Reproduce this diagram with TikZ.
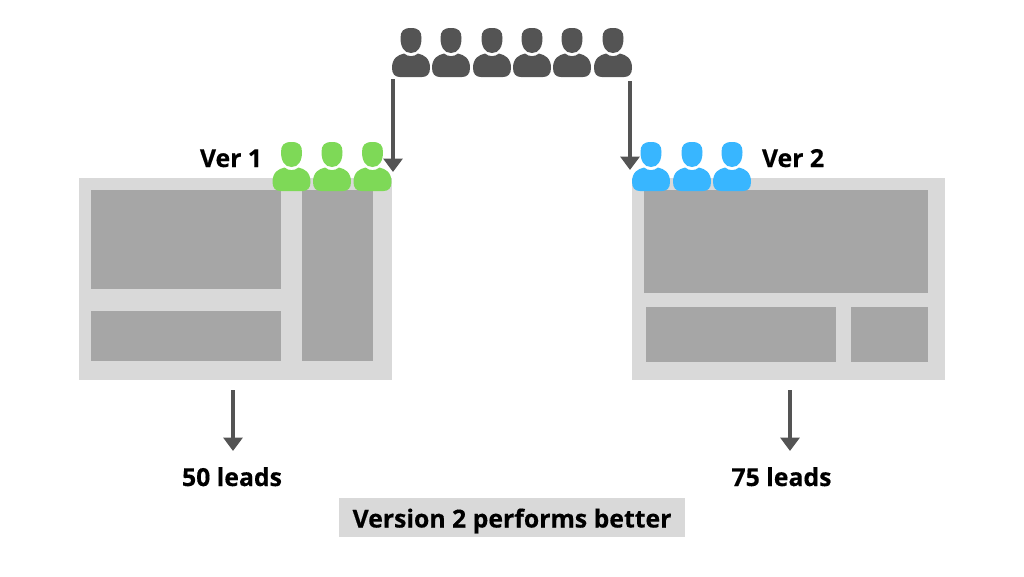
\documentclass[tikz,border=0pt]{standalone}
\usepackage{fontspec}
\setmainfont{Open Sans}[BoldFeatures={FakeBold=0.4}]
\usetikzlibrary{arrows.meta}
\definecolor{panelc}{HTML}{D9D9D9}
\definecolor{blockc}{HTML}{A6A6A6}
\definecolor{darkc}{HTML}{545454}
\definecolor{greenc}{HTML}{7ED957}
\definecolor{bluec}{HTML}{38B6FF}
\tikzset{
  x=1pt,y=-1pt,
  panel/.style={fill=panelc},
  block/.style={fill=blockc},
  flow/.style={draw=darkc,line width=4pt,-{Triangle[length=13.5pt,width=19pt]}},
  lbl/.style={font=\bfseries\fontsize{24.8}{29}\selectfont,text=black,inner sep=0pt,text height=18pt,text depth=0pt},
  person/.pic={
    \fill (0,-5) .. controls (7.5,-5) and (10.5,-2) .. (10.5,5)
      .. controls (10.5,14) and (7,20) .. (0,20)
      .. controls (-7,20) and (-10.5,14) .. (-10.5,5)
      .. controls (-10.5,-2) and (-7.5,-5) .. (0,-5) -- cycle;
    \fill (-7,20.5) .. controls (-13,22) and (-19,25) .. (-19,35)
      .. controls (-19,41) and (-16,44) .. (-11,44)
      -- (11,44) .. controls (16,44) and (19,41) .. (19,35)
      .. controls (19,25) and (13,22) .. (7,20.5)
      .. controls (3,24) and (-3,24) .. (-7,20.5) -- cycle;
  }
}
\begin{document}
\begin{tikzpicture}
\useasboundingbox (0,0) rectangle (1024,576);
% panels
\fill[panel] (79,178) rectangle (392,380);
\fill[block] (91,190) rectangle (281,289);
\fill[block] (91,311) rectangle (281,361);
\fill[block] (302,190) rectangle (373,361);
\fill[panel] (632,178) rectangle (945,380);
\fill[block] (644,190) rectangle (928,293);
\fill[block] (646,307) rectangle (836,362);
\fill[block] (851,307) rectangle (928,362);
% people
\foreach \c in {411,451,492,532,572,613}
  \pic[darkc] at (\c,33) {person};
\foreach \c in {291.5,332,372.5}
  \pic[greenc] at (\c,147) {person};
\foreach \c in {651,692,732}
  \pic[bluec] at (\c,147) {person};
% anchors
\coordinate (a1s) at (393,79);
\coordinate (a1e) at (393,172);
\coordinate (a2s) at (630,81);
\coordinate (a2e) at (630,170);
\coordinate (a3s) at (233,390);
\coordinate (a3e) at (233,451);
\coordinate (a4s) at (790,390);
\coordinate (a4e) at (790,451);
\draw[flow] (a1s) -- (a1e);
\draw[flow] (a2s) -- (a2e);
\draw[flow] (a3s) -- (a3e);
\draw[flow] (a4s) -- (a4e);
% labels
\node[lbl] (v1) at (231,158) {Ver 1};
\node[lbl] (v2) at (793,158) {Ver 2};
\node[lbl] (l50) at (232,477) {50 leads};
\node[lbl] (l75) at (781.5,477) {75 leads};
\fill[panel] (339,498) rectangle (685,537);
\node[lbl] (res) at (512,518.5) {Version 2 performs better};
\end{tikzpicture}
\end{document}
